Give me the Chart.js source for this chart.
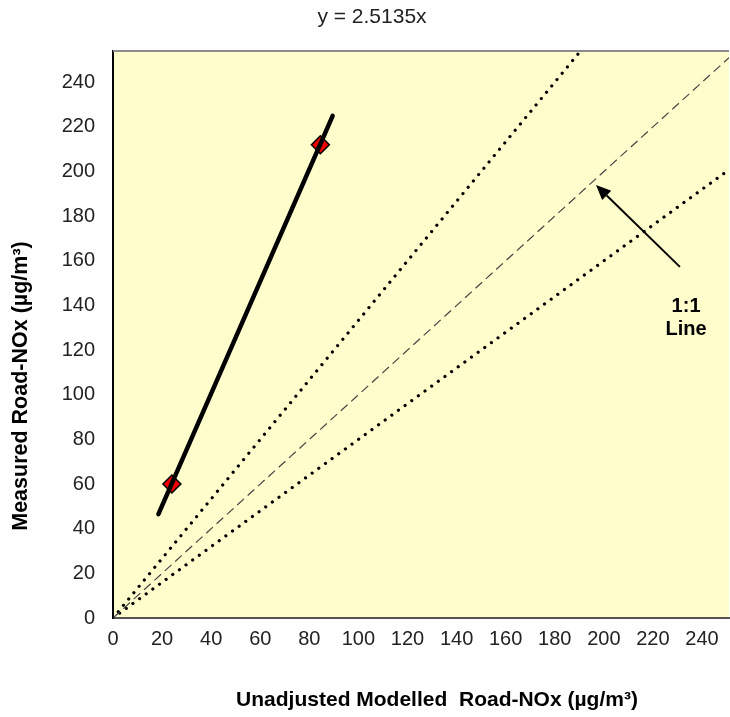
<!DOCTYPE html>
<html>
<head>
<meta charset="utf-8">
<script src="https://cdn.jsdelivr.net/npm/chart.js@4/dist/chart.umd.min.js"></script>
<style>
html,body{margin:0;padding:0;background:#fff;overflow:hidden;}
#wrap{width:730px;height:717px;position:relative;}
canvas{display:block;}
</style>
</head>
<body>
<div id="wrap"><canvas id="c" width="730" height="717"></canvas></div>
<script>
// ---- data ----
const chartTitle = "y = 2.5135x";
const xTitle = "Unadjusted Modelled  Road-NOx (µg/m³)";
const yTitle = "Measured Road-NOx (µg/m³)";
const slope = 2.5135;
const modelled = [24, 84.5];
const measured = [60, 212];
const trendX = [18.5, 89.5];
const oneToOneX = [0, 251];
const upperX = [0, 190.5];       // y = x / 0.75
const lowerX = [0, 251];         // y = 0.8 x
const upperFactor = 1 / 0.75;
const lowerFactor = 0.8;
const xTicks = [0,20,40,60,80,100,120,140,160,180,200,220,240];
const yTicks = [0,20,40,60,80,100,120,140,160,180,200,220,240];
const xMax = 251, yMax = 254;
const arrowFrom = {x: 231, y: 157.3};
const arrowTo = {x: 196.8, y: 194};
const noteLines = ["1:1", "Line"];
const noteAt = {x: 233.5, y: 134.5};

const pts = (xs, f) => xs.map(x => ({x: x, y: f(x)}));

const bgPlugin = {
  id: 'bg',
  beforeDraw(chart) {
    const {ctx, chartArea: a} = chart;
    ctx.save();
    ctx.fillStyle = '#FFFDCC';
    ctx.fillRect(a.left, a.top, a.right - a.left, a.bottom - a.top);
    ctx.restore();
  },
  afterDatasetsDraw(chart) {
    const {ctx, chartArea: a, scales} = chart;
    const xs = scales.x, ys = scales.y;
    ctx.save();
    // frame top
    ctx.strokeStyle = '#8c8c8c';
    ctx.lineWidth = 2;
    ctx.beginPath();
    ctx.moveTo(a.left, a.top);
    ctx.lineTo(a.right, a.top);
    ctx.stroke();
    // arrow
    const x1 = xs.getPixelForValue(arrowFrom.x), y1 = ys.getPixelForValue(arrowFrom.y);
    const x2 = xs.getPixelForValue(arrowTo.x), y2 = ys.getPixelForValue(arrowTo.y);
    const ang = Math.atan2(y2 - y1, x2 - x1);
    const hl = 15, hw = 6.5;
    const bx = x2 - hl * Math.cos(ang), by = y2 - hl * Math.sin(ang);
    ctx.strokeStyle = '#000';
    ctx.fillStyle = '#000';
    ctx.lineWidth = 2;
    ctx.beginPath();
    ctx.moveTo(x1, y1);
    ctx.lineTo(bx, by);
    ctx.stroke();
    ctx.beginPath();
    ctx.moveTo(x2, y2);
    ctx.lineTo(bx + hw * Math.sin(ang), by - hw * Math.cos(ang));
    ctx.lineTo(bx - hw * Math.sin(ang), by + hw * Math.cos(ang));
    ctx.closePath();
    ctx.fill();
    // note
    ctx.font = 'bold 20px "Liberation Sans", Arial, sans-serif';
    ctx.textAlign = 'center';
    ctx.textBaseline = 'middle';
    const nx = xs.getPixelForValue(noteAt.x), ny = ys.getPixelForValue(noteAt.y);
    ctx.fillText(noteLines[0], nx, ny - 11.5);
    ctx.fillText(noteLines[1], nx, ny + 11.5);
    ctx.restore();
  },
  afterDraw(chart) {
    const {ctx} = chart;
    ctx.save();
    ctx.textAlign = 'center';
    ctx.textBaseline = 'middle';
    ctx.font = '21px "Liberation Sans", Arial, sans-serif';
    ctx.fillStyle = '#222';
    ctx.fillText(chartTitle, 372, 17);
    ctx.fillStyle = '#000';
    ctx.font = 'bold 21px "Liberation Sans", Arial, sans-serif';
    ctx.fillText(xTitle, 437, 700);
    ctx.font = 'bold 21.5px "Liberation Sans", Arial, sans-serif';
    ctx.translate(21, 386);
    ctx.rotate(-Math.PI / 2);
    ctx.fillText(yTitle, 0, 0);
    ctx.restore();
  }
};

new Chart(document.getElementById('c'), {
  type: 'scatter',
  data: {
    datasets: [
      {
        label: 'points',
        data: modelled.map((x, i) => ({x: x, y: measured[i]})),
        pointStyle: 'rectRot',
        pointRadius: 9,
        backgroundColor: '#ee0000',
        borderColor: '#000',
        borderWidth: 1.5,
        order: 1
      },
      {
        label: 'trend',
        data: pts(trendX, x => slope * x),
        showLine: true,
        borderColor: '#000',
        borderWidth: 4.5,
        borderCapStyle: 'round',
        pointRadius: 0,
        order: 0
      },
      {
        label: '1:1',
        data: pts(oneToOneX, x => x),
        showLine: true,
        borderColor: '#444',
        borderWidth: 1.2,
        borderDash: [9, 5],
        pointRadius: 0,
        order: 2
      },
      {
        label: 'upper',
        data: pts(upperX, x => upperFactor * x),
        showLine: true,
        borderColor: '#000',
        borderWidth: 3.2,
        borderDash: [0.01, 8.2],
        borderCapStyle: 'round',
        pointRadius: 0,
        order: 3
      },
      {
        label: 'lower',
        data: pts(lowerX, x => lowerFactor * x),
        showLine: true,
        borderColor: '#000',
        borderWidth: 3.2,
        borderDash: [0.01, 8.2],
        borderCapStyle: 'round',
        pointRadius: 0,
        order: 4
      }
    ]
  },
  options: {
    responsive: false,
    animation: false,
    layout: {autoPadding: false, padding: {top: 51, right: 1, left: 0, bottom: 0}},
    plugins: {legend: {display: false}, tooltip: {enabled: false}, title: {display: false}},
    scales: {
      x: {
        type: 'linear', min: 0, max: xMax,
        afterFit(s) { s.height = 99; s.paddingRight = 0; s.paddingLeft = 0; },
        afterBuildTicks(s) { s.ticks = xTicks.map(v => ({value: v})); },
        grid: {display: false, drawOnChartArea: false, drawTicks: true, tickLength: 6, tickColor: '#000', tickWidth: 1.5},
        border: {display: true, color: '#555', width: 2},
        ticks: {color: '#222', font: {size: 20, family: '"Liberation Sans", Arial, sans-serif'}, padding: 3, maxRotation: 0, autoSkip: false}
      },
      y: {
        type: 'linear', min: 0, max: yMax,
        afterFit(s) { s.width = 113; },
        afterBuildTicks(s) { s.ticks = yTicks.map(v => ({value: v})); },
        grid: {display: false, drawOnChartArea: false, drawTicks: true, tickLength: 6, tickColor: '#000', tickWidth: 1.5},
        border: {display: true, color: '#000', width: 2},
        ticks: {color: '#222', font: {size: 20, family: '"Liberation Sans", Arial, sans-serif'}, padding: 12, autoSkip: false}
      }
    }
  },
  plugins: [bgPlugin]
});
</script>
</body>
</html>
